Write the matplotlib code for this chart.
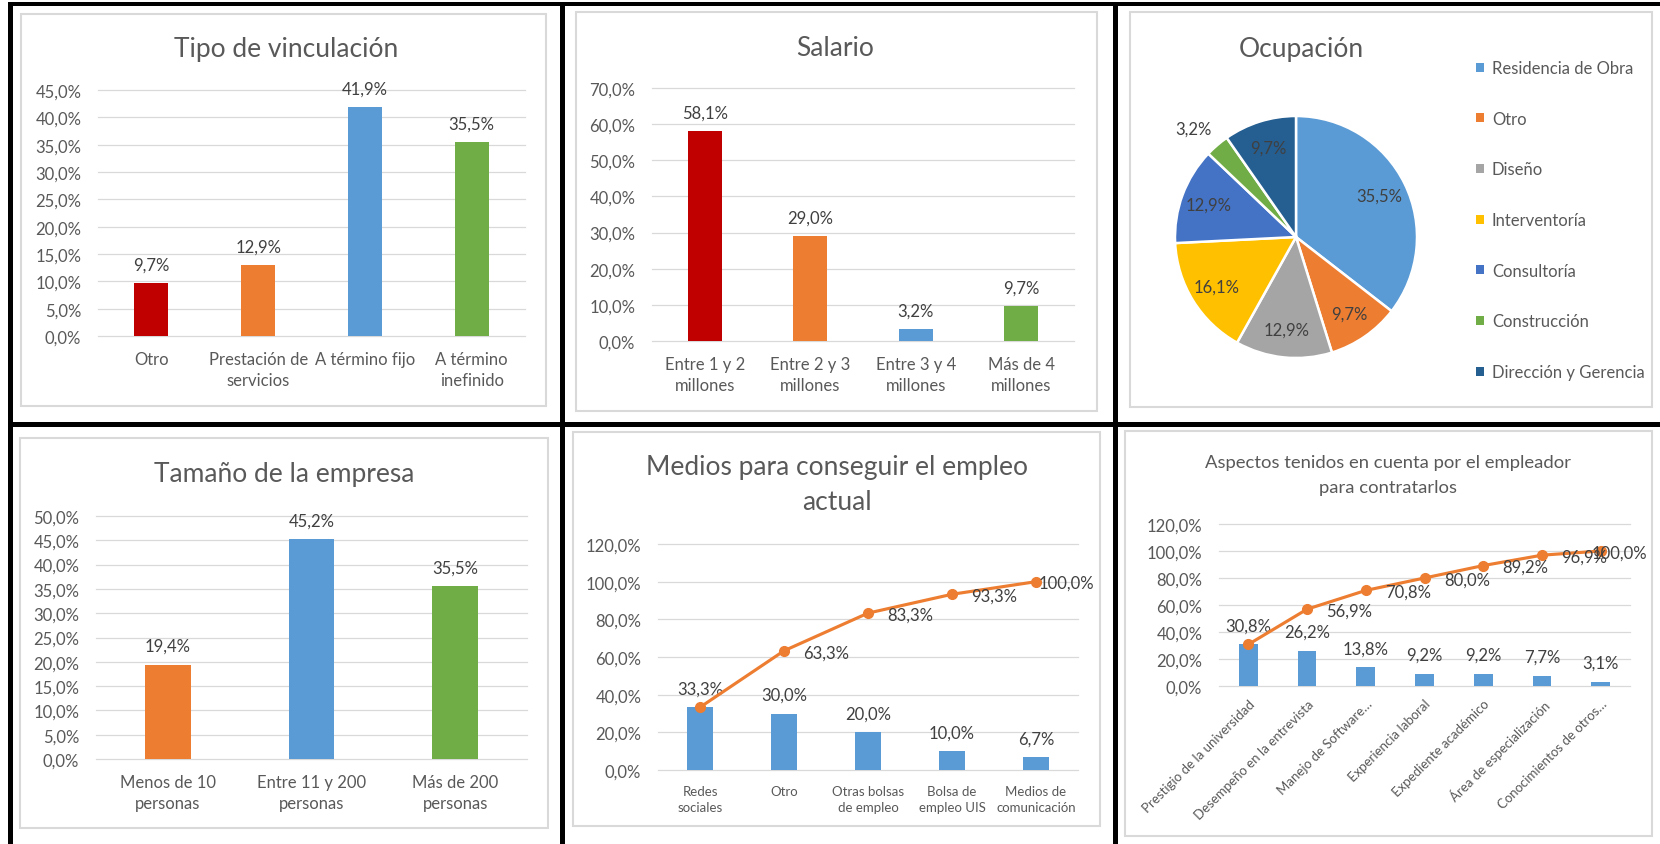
import matplotlib

matplotlib.use("Agg")
import matplotlib.pyplot as plt
import numpy as np
from matplotlib.patches import Rectangle
from matplotlib.ticker import FuncFormatter, MultipleLocator

plt.rcParams["font.family"] = ["Lato", "DejaVu Sans"]

W, H = 1660, 845

tipo_cats = ["Otro", "Prestación de\nservicios", "A término fijo", "A término\ninefinido"]
tipo_vals = [9.7, 12.9, 41.9, 35.5]

salario_cats = ["Entre 1 y 2\nmillones", "Entre 2 y 3\nmillones", "Entre 3 y 4\nmillones", "Más de 4\nmillones"]
salario_vals = [58.1, 29.0, 3.2, 9.7]

ocup_cats = ["Residencia de Obra", "Otro", "Diseño", "Interventoría",
             "Consultoría", "Construcción", "Dirección y Gerencia"]
ocup_vals = [35.5, 9.7, 12.9, 16.1, 12.9, 3.2, 9.7]

tam_cats = ["Menos de 10\npersonas", "Entre 11 y 200\npersonas", "Más de 200\npersonas"]
tam_vals = [19.4, 45.2, 35.5]

medios_cats = ["Redes\nsociales", "Otro", "Otras bolsas\nde empleo", "Bolsa de\nempleo UIS", "Medios de\ncomunicación"]
medios_vals = [33.3, 30.0, 20.0, 10.0, 6.7]
medios_cum = [33.3, 63.3, 83.3, 93.3, 100.0]

aspectos_cats = ["Prestigio de la universidad", "Desempeño en la entrevista", "Manejo de Software…",
                 "Experiencia laboral", "Expediente académico", "Área de especialización",
                 "Conocimientos de otros…"]
aspectos_vals = [30.8, 26.2, 13.8, 9.2, 9.2, 7.7, 3.1]
aspectos_cum = [30.8, 56.9, 70.8, 80.0, 89.2, 96.9, 100.0]

TEXT = "#595959"
LABEL = "#404040"
GRID = "#D9D9D9"
RED, ORANGE, BLUE, GREEN = "#C00000", "#ED7D31", "#5B9BD5", "#70AD47"
PIE_COLORS = ["#5B9BD5", "#ED7D31", "#A5A5A5", "#FFC000", "#4472C4", "#70AD47", "#255E91"]


def pct(v, _=None):
    return f"{v:.1f}%".replace(".", ",")


def px_axes(fig, x0, y0, x1, y1):
    return fig.add_axes([x0 / W, 1 - y1 / H, (x1 - x0) / W, (y1 - y0) / H])


def box(fig, x0, y0, x1, y1, **kw):
    fig.add_artist(Rectangle((x0 / W, 1 - y1 / H), (x1 - x0) / W, (y1 - y0) / H,
                             transform=fig.transFigure, **kw))


def title(fig, x, y, text, size=19):
    fig.text(x / W, 1 - y / H, text, ha="center", va="center", fontsize=size, color=TEXT)


def bar_panel(fig, area, cats, vals, colors, ymax, step, xsize=12, cum=None, right=None):
    ax = px_axes(fig, *area)
    x = np.arange(len(vals))
    ax.bar(x, vals, width=0.32, color=colors, zorder=2)
    for xi, v in zip(x, vals):
        ax.annotate(pct(v), (xi, v), xytext=(0, 13.5), textcoords="offset points",
                    ha="center", va="center", fontsize=12, color=LABEL)
    ax.set_xlim(-0.5, len(vals) - 0.5)
    ax.set_ylim(0, ymax)
    if cum is not None:
        ax.plot(x, cum, color=ORANGE, lw=2.25, marker="o", ms=7, zorder=3, clip_on=False)
        renderer = fig.canvas.get_renderer()
        for xi, v in list(zip(x, cum))[1:]:
            t = ax.annotate(pct(v), (xi, v), xytext=(14, -1), textcoords="offset points",
                            ha="left", va="center", fontsize=12, color=LABEL)
            # keep the label inside the chart frame, as Excel does
            bb = t.get_window_extent(renderer)
            if right is not None and bb.x1 > right:
                t.xyann = (14 - (bb.x1 - right) * 72 / 100, -1)
    ax.yaxis.set_major_locator(MultipleLocator(step))
    ax.yaxis.set_major_formatter(FuncFormatter(pct))
    ax.grid(axis="y", color=GRID, lw=0.9)
    ax.set_axisbelow(True)
    for gl in ax.get_ygridlines():
        gl.set_clip_on(False)
    for s in ax.spines.values():
        s.set_visible(False)
    ax.set_xticks(x, cats)
    ax.tick_params(length=0, labelcolor=TEXT)
    ax.tick_params(axis="y", labelsize=12, pad=12)
    ax.tick_params(axis="x", labelsize=xsize, pad=11)
    for t in ax.get_xticklabels():
        t.set_linespacing(1.38)
    ax.patch.set_alpha(0)
    return ax


fig = plt.figure(figsize=(W / 100, H / 100), dpi=100)

# light grey chart frames
for fr in [(21, 15, 546, 407), (576, 13, 1097, 412), (1130, 13, 1652, 408),
           (20, 439, 548, 829), (573, 433, 1100, 827), (1125, 432, 1652, 837)]:
    box(fig, *fr, fill=False, edgecolor=GRID, lw=1.5)

# black separators of the collage
for b in [(8, 3, 1660, 7), (8, 3, 13, 845), (560, 3, 565, 845),
          (1113, 3, 1118, 845), (8, 423, 1660, 428)]:
    box(fig, *b, facecolor="black", edgecolor="none")

# Tipo de vinculación
title(fig, 286, 50, "Tipo de vinculación")
bar_panel(fig, (98, 91, 525, 337), tipo_cats, tipo_vals, [RED, ORANGE, BLUE, GREEN], 45, 5)

# Salario
title(fig, 835, 48, "Salario")
bar_panel(fig, (652, 89, 1074, 342), salario_cats, salario_vals, [RED, ORANGE, BLUE, GREEN], 70, 10)

# Ocupación
title(fig, 1301, 50, "Ocupación")
cx, cy, r = 1296, 238, 121
ax = px_axes(fig, cx - r, cy - r, cx + r, cy + r)
wedges, _, autotexts = ax.pie(
    ocup_vals, colors=PIE_COLORS, startangle=90, counterclock=False,
    wedgeprops=dict(edgecolor="white", linewidth=1.8),
    autopct=lambda p: pct(p), pctdistance=0.77,
    textprops=dict(fontsize=12, color=LABEL),
)
ax.set_xlim(-1, 1)
ax.set_ylim(-1, 1)
small = ocup_vals.index(min(ocup_vals))
mid = np.deg2rad(90 - 3.6 * (sum(ocup_vals[:small]) + ocup_vals[small] / 2))
autotexts[small].set_position((1.22 * np.cos(mid) - 0.05, 1.22 * np.sin(mid) - 0.03))
handles = [Rectangle((0, 0), 1, 1, facecolor=c, edgecolor="none") for c in PIE_COLORS]
fig.legend(handles, ocup_cats, loc="upper left", bbox_to_anchor=(1476 / W, 1 - 61 / H),
           frameon=False, fontsize=12, labelspacing=2.08, handlelength=0.45,
           handleheight=0.45, handletextpad=0.5, borderpad=0, borderaxespad=0,
           labelcolor=TEXT)

# Tamaño de la empresa
title(fig, 284, 475, "Tamaño de la empresa")
bar_panel(fig, (96, 517, 527, 760), tam_cats, tam_vals, [ORANGE, BLUE, GREEN], 50, 5)

# Medios para conseguir el empleo actual
title(fig, 837, 468, "Medios para conseguir el empleo")
title(fig, 837, 503, "actual")
bar_panel(fig, (658, 545, 1078, 771), medios_cats, medios_vals, BLUE, 120, 20,
          xsize=9.5, cum=medios_cum, right=1094)

# Aspectos tenidos en cuenta
title(fig, 1388, 463, "Aspectos tenidos en cuenta por el empleador", size=13.3)
title(fig, 1388, 488, "para contratarlos", size=13.3)
ax = bar_panel(fig, (1219, 525, 1630, 687), aspectos_cats, aspectos_vals, BLUE, 120, 20,
               xsize=9.5, cum=aspectos_cum, right=1647)
ax.tick_params(axis="x", pad=8)
for t in ax.get_xticklabels():
    t.set_rotation(45)
    t.set_ha("right")
    t.set_va("top")
    t.set_rotation_mode("anchor")

fig.savefig("out.png", dpi=100)
